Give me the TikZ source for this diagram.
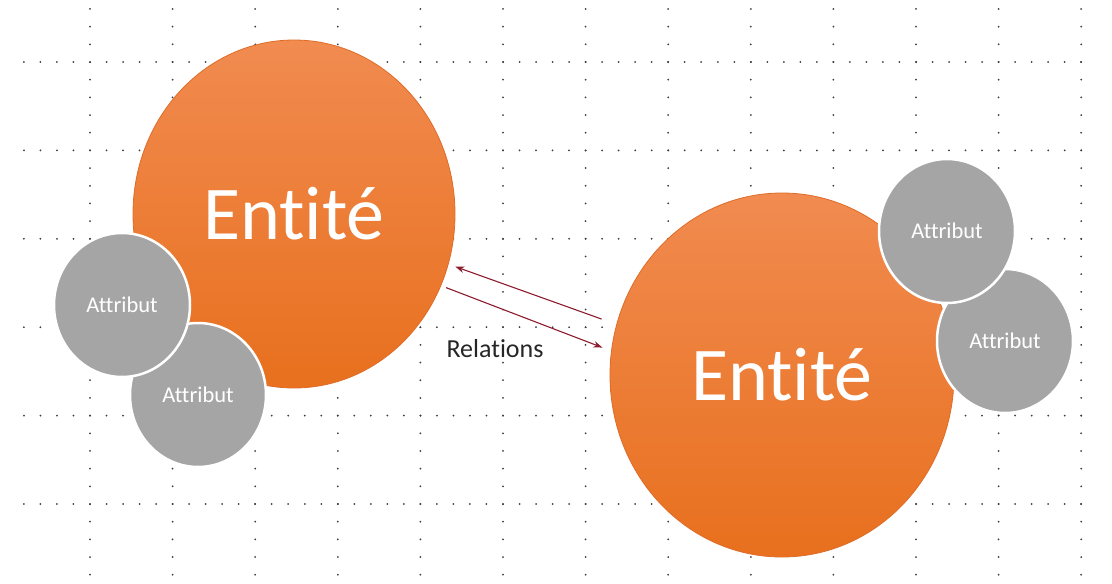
\documentclass[tikz,border=0pt]{standalone}
\usepackage{fontspec}
\setmainfont{Carlito}[Ligatures=NoCommon]
\usepackage{xcolor}
\usetikzlibrary{shapes.geometric,arrows.meta}
\definecolor{orangetop}{RGB}{241,139,80}
\definecolor{orangebot}{RGB}{232,112,30}
\definecolor{orangeedge}{RGB}{222,108,40}
\definecolor{attrgray}{RGB}{165,165,165}
\definecolor{relred}{RGB}{140,28,45}
\definecolor{dotgray}{RGB}{60,60,60}
\tikzstyle{entity} = [ellipse, top color=orangetop, bottom color=orangebot, draw=orangeedge, line width=0.8pt, text=white, font=\fontsize{76}{80}\selectfont, outer sep=0pt]
\tikzstyle{attribute} = [ellipse, minimum width=136pt, minimum height=144pt, fill=attrgray, draw=white, line width=2.5pt, text=white, font=\fontsize{22.5}{24}\selectfont, outer sep=0pt]
\tikzstyle{relarrow} = [line width=1.1pt, draw=relred, -{Stealth[length=9pt,width=6.5pt]}]
\tikzstyle{griddot} = [fill=dotgray]

\begin{document}
\begin{tikzpicture}[x=1pt, y=-1pt]
\useasboundingbox (0,0) rectangle (1112,584);
\foreach \gy in {0,...,5}
  \foreach \i in {-4,...,60}
    \fill [griddot] ({90+16.52*\i},{62+88.4*\gy}) circle (1);
\foreach \gx in {0,...,12}
  \foreach \i in {-3,...,29}
    \fill [griddot] ({90+82.6*\gx},{62+17.68*\i}) circle (1);

\node (entityL) [entity, minimum width=322pt, minimum height=348pt] at (294,214) {Entité};
\node (entityR) [entity, minimum width=344pt, minimum height=364pt] at (782,375) {Entité};
\node (attrLb) [attribute] at (198,395) {Attribut};
\node (attrLa) [attribute] at (122,305) {Attribut};
\node (attrRb) [attribute] at (1005,341) {Attribut};
\node (attrRa) [attribute] at (947,231) {Attribut};
\node (relations) [text={rgb,255:red,38;green,38;blue,38}, font=\fontsize{26}{28}\selectfont] at (495,349) {Relations};

\draw [relarrow, shorten <=16.1pt, shorten >=7.6pt] (entityR.163.7) -- (entityL.-18.5);
\draw [relarrow, shorten <=5.7pt, shorten >=9.8pt] (entityL.-26.9) -- (entityR.172.8);
\end{tikzpicture}
\end{document}
